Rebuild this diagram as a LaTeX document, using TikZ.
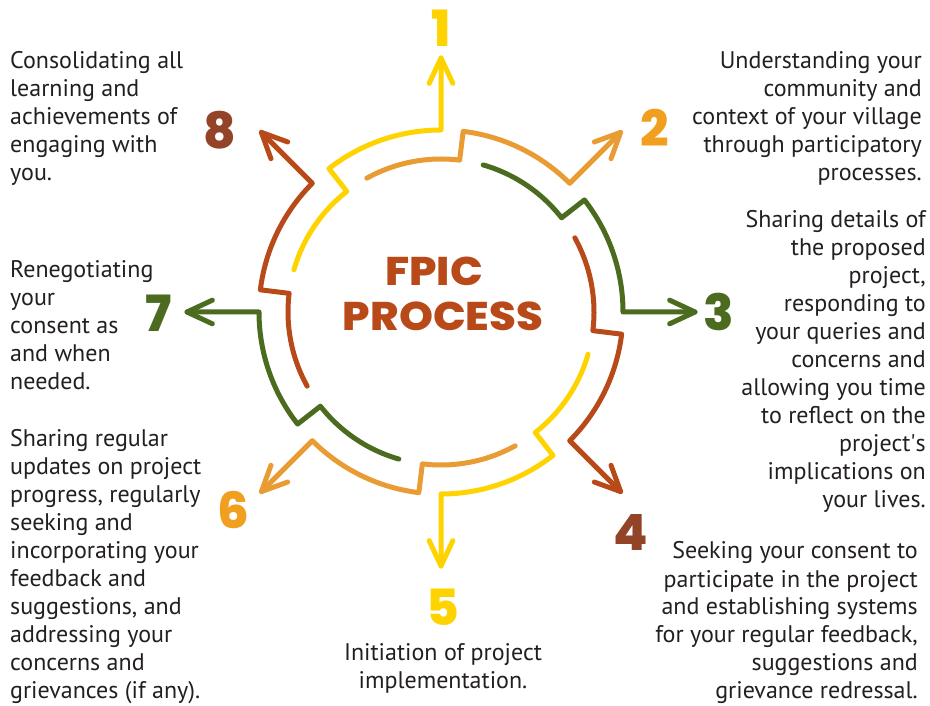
\documentclass[tikz,border=0pt]{standalone}
\usepackage{fontspec}
\setmainfont{PT Sans}
\newfontfamily\numfont{Poppins ExtraBold}
\newfontfamily\titlefont{Poppins ExtraBold}[FakeStretch=1.08]
\usetikzlibrary{calc}
\definecolor{cy}{HTML}{FFD300}
\definecolor{co}{HTML}{E99C34}
\definecolor{cg}{HTML}{4B6B1E}
\definecolor{cr}{HTML}{B84A1A}
\definecolor{ny}{HTML}{FFD300}
\definecolor{no}{HTML}{F0A01E}
\definecolor{ng}{HTML}{4B6B1E}
\definecolor{nb}{HTML}{934428}
\definecolor{txt}{HTML}{231F20}
\newcommand\mylines[2]{\begin{tabular}[t]{@{}#1@{}}#2\end{tabular}}
\begin{document}
\begin{tikzpicture}[x=1pt,y=1pt,
  arcline/.style={line width=5pt, line cap=round, line join=round},
  num/.style={font=\numfont\fontsize{50}{50}\selectfont, inner sep=0pt},
  body/.style={font=\fontsize{24}{28}\selectfont, text=txt, inner sep=0pt},
  title/.style={font=\titlefont\fontsize{40}{40}\selectfont, text=cr, inner sep=0pt}]
\useasboundingbox (0,0) rectangle (930,705);
\coordinate (c) at (441,393);
\foreach \i/\col in {1/cy,2/co,3/cg,4/cr,5/cy,6/co,7/cg,8/cr}{
  \pgfmathsetmacro\t{90-45*(\i-1)}
  \pgfmathsetmacro\ta{\t+74}
  \pgfmathsetmacro\tb{\t+38}
  \pgfmathsetmacro\tl{\t+180-25}
  \pgfmathsetmacro\tr{\t+180+25}
  \coordinate (s\i) at ($(c)+(\ta:153)$);
  \coordinate (j\i) at ($(c)+(\tb:182)$);
  \coordinate (tip\i) at ($(c)+(\t:254)$);
  \draw[arcline,\col] (s\i) arc[start angle=\ta, end angle=\tb, radius=153] -- (j\i) arc[start angle=\tb, end angle=\t, radius=182] -- (tip\i);
  \draw[arcline,\col] ($(tip\i)+(\tl:28)$) -- (tip\i) -- ($(tip\i)+(\tr:28)$);
}
\node[num,text=ny] (n1) at (441,677) {1};
\node[num,text=no] (n2) at (655,577) {2};
\node[num,text=ng] (n3) at (719,393) {3};
\node[num,text=nb] (n4) at (631,172) {4};
\node[num,text=ny] (n5) at (443,98) {5};
\node[num,text=no] (n6) at (233,195) {6};
\node[num,text=ng] (n7) at (159,392) {7};
\node[num,text=nb] (n8) at (220,575) {8};
\node[title] (fpic) at (434,433.5) {FPIC};
\node[title] (proc) at (443,388.5) {PROCESS};
\node[body,anchor=base west] (t8) at (10,636) {\mylines{l}{Consolidating all\\learning and\\achievements of\\engaging with\\you.}};
\node[body,anchor=base east] (t2) at (922,636) {\mylines{r}{Understanding your\\community and\\context of your village\\through participatory\\processes.}};
\node[body,anchor=base east] (t3) at (926,477) {\mylines{r}{Sharing details of\\the proposed\\project,\\responding to\\your queries and\\concerns and\\allowing you time\\to reflect on the\\project\textquotesingle s\\implications on\\your lives.}};
\node[body,anchor=base west] (t7) at (10,427) {\mylines{l}{Renegotiating\\your\\consent as\\and when\\needed.}};
\node[body,anchor=base west] (t6) at (10,258) {\mylines{l}{Sharing regular\\updates on project\\progress, regularly\\seeking and\\incorporating your\\feedback and\\suggestions, and\\addressing your\\concerns and\\grievances (if any).}};
\node[body,anchor=base] (t5) at (443,45) {\mylines{c}{Initiation of project\\implementation.}};
\node[body,anchor=base east] (t4) at (918,146) {\mylines{r}{Seeking your consent to\\participate in the project\\and establishing systems\\for your regular feedback,\\suggestions and\\grievance redressal.}};
\end{tikzpicture}
\end{document}
